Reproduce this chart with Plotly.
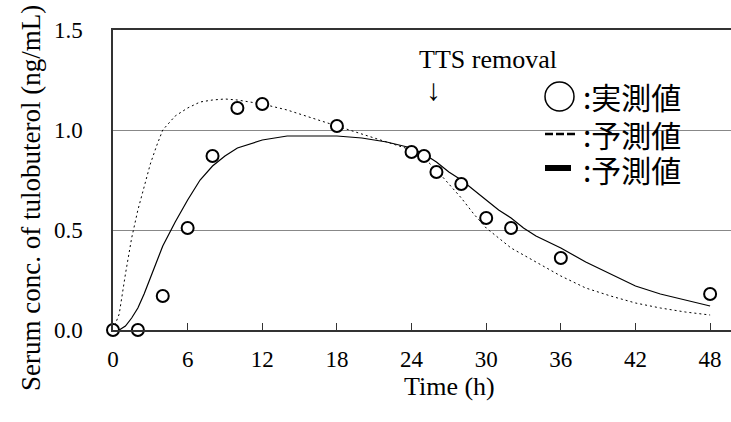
import plotly.graph_objects as go

# Measured values (open circles)
obs_time = [0, 2, 4, 6, 8, 10, 12, 18, 24, 25, 26, 28, 30, 32, 36, 48]
obs_conc = [0.0, 0.0, 0.17, 0.51, 0.87, 1.11, 1.13, 1.02, 0.89, 0.87, 0.79, 0.73, 0.56, 0.51, 0.36, 0.18]

# Predicted curve 1 (dashed)
pred1_time = [0, 0.5, 1, 1.5, 2, 2.5, 3, 3.5, 4, 5, 6, 7, 8, 9, 10, 11, 12, 14, 16, 18, 20, 22, 24,
              25, 26, 27, 28, 29, 30, 31, 32, 34, 36, 38, 40, 42, 44, 46, 48]
pred1_conc = [0.0, 0.08, 0.28, 0.46, 0.60, 0.72, 0.83, 0.92, 1.00, 1.07, 1.11, 1.14, 1.15, 1.155, 1.15,
              1.14, 1.13, 1.10, 1.06, 1.02, 0.98, 0.94, 0.90, 0.86, 0.80, 0.73, 0.66, 0.58, 0.51, 0.46,
              0.41, 0.34, 0.27, 0.21, 0.17, 0.135, 0.11, 0.09, 0.075]

# Predicted curve 2 (solid)
pred2_time = [0, 0.5, 1, 1.5, 2, 2.5, 3, 3.5, 4, 4.5, 5, 6, 7, 8, 9, 10, 11, 12, 13, 14, 16, 18, 20,
              22, 24, 25, 26, 27, 28, 29, 30, 31, 32, 33, 34, 35, 36, 38, 40, 42, 44, 46, 48]
pred2_conc = [0.0, 0.0, 0.02, 0.06, 0.11, 0.18, 0.26, 0.34, 0.42, 0.48, 0.54, 0.65, 0.75, 0.82, 0.87,
              0.91, 0.93, 0.95, 0.96, 0.97, 0.97, 0.97, 0.96, 0.94, 0.91, 0.88, 0.84, 0.79, 0.75, 0.70,
              0.65, 0.60, 0.56, 0.51, 0.47, 0.44, 0.41, 0.34, 0.28, 0.22, 0.18, 0.15, 0.12]

x_ticks = [0, 6, 12, 18, 24, 30, 36, 42, 48]
y_ticks = [0.0, 0.5, 1.0, 1.5]

serif = "Liberation Serif, Times New Roman, serif"
cjk = "Noto Sans CJK JP, sans-serif"

fig = go.Figure()
fig.add_trace(go.Scatter(x=pred1_time, y=pred1_conc, mode="lines",
                         line=dict(color="black", width=1, dash="2px,3px"), showlegend=False))
fig.add_trace(go.Scatter(x=pred2_time, y=pred2_conc, mode="lines",
                         line=dict(color="black", width=1.2), showlegend=False))
fig.add_trace(go.Scatter(x=obs_time, y=obs_conc, mode="markers",
                         marker=dict(symbol="circle", size=12, color="white",
                                     line=dict(color="black", width=2)),
                         showlegend=False, cliponaxis=False))

W, H = 731, 422
L, R, T, B = 113, 0, 30, 92
pw, ph = W - L - R, H - T - B


def px(xp):
    return (xp - L) / pw


def py(yp):
    return (H - B - yp) / ph


# Legend symbols
fig.add_shape(type="circle", xref="paper", yref="paper",
              x0=px(545), x1=px(574), y0=py(111), y1=py(82),
              line=dict(color="black", width=1.5))
fig.add_shape(type="line", xref="paper", yref="paper",
              x0=px(545), x1=px(575), y0=py(134), y1=py(134),
              line=dict(color="black", width=2.5, dash="8px,3px"))
fig.add_shape(type="line", xref="paper", yref="paper",
              x0=px(545), x1=px(571), y0=py(168), y1=py(168),
              line=dict(color="black", width=6))

for txt, yy in [(":実測値", 96), (":予測値", 134), (":予測値", 169)]:
    fig.add_annotation(text=txt, xref="paper", yref="paper", x=px(581), y=py(yy),
                       xanchor="left", yanchor="middle", showarrow=False,
                       font=dict(family=cjk, size=30, color="black"))

fig.add_annotation(text="TTS removal", xref="paper", yref="paper", x=px(488), y=py(60),
                   xanchor="center", yanchor="middle", showarrow=False,
                   font=dict(family=serif, size=26, color="black"))
fig.add_annotation(text="↓", xref="paper", yref="paper", x=px(433), y=py(89),
                   xanchor="center", yanchor="middle", showarrow=False,
                   font=dict(family=serif, size=30, color="black"))

# Axis titles placed as in the reference
fig.add_annotation(text="Serum conc. of tulobuterol (ng/mL)", xref="paper", yref="paper",
                   x=px(31), y=py(198), xanchor="center", yanchor="middle", textangle=-90,
                   showarrow=False, font=dict(family=serif, size=27, color="black"))
fig.add_annotation(text="Time (h)", xref="paper", yref="paper",
                   x=px(449), y=py(386), xanchor="center", yanchor="middle",
                   showarrow=False, font=dict(family=serif, size=26, color="black"))

fig.update_layout(
    width=W, height=H,
    margin=dict(l=L, r=R, t=T, b=B),
    paper_bgcolor="white", plot_bgcolor="white",
    font=dict(family=serif, size=23, color="black"),
    xaxis=dict(range=[0, pw / 12.44], tickvals=x_ticks, ticktext=[str(v) for v in x_ticks],
               showgrid=False, zeroline=False, showline=True, linecolor="#333", linewidth=1.5,
               mirror=True, ticks="inside", ticklen=7, tickcolor="#333", tickwidth=1,
               ticklabelstandoff=8),
    yaxis=dict(range=[0, 1.5], tickvals=y_ticks, ticktext=[f"{v:.1f}" for v in y_ticks],
               showgrid=True, gridcolor="#888", gridwidth=1, zeroline=False,
               showline=True, linecolor="#333", linewidth=1.5, ticks="",
               ticklabelstandoff=24),
)

fig.write_html("out.html")
